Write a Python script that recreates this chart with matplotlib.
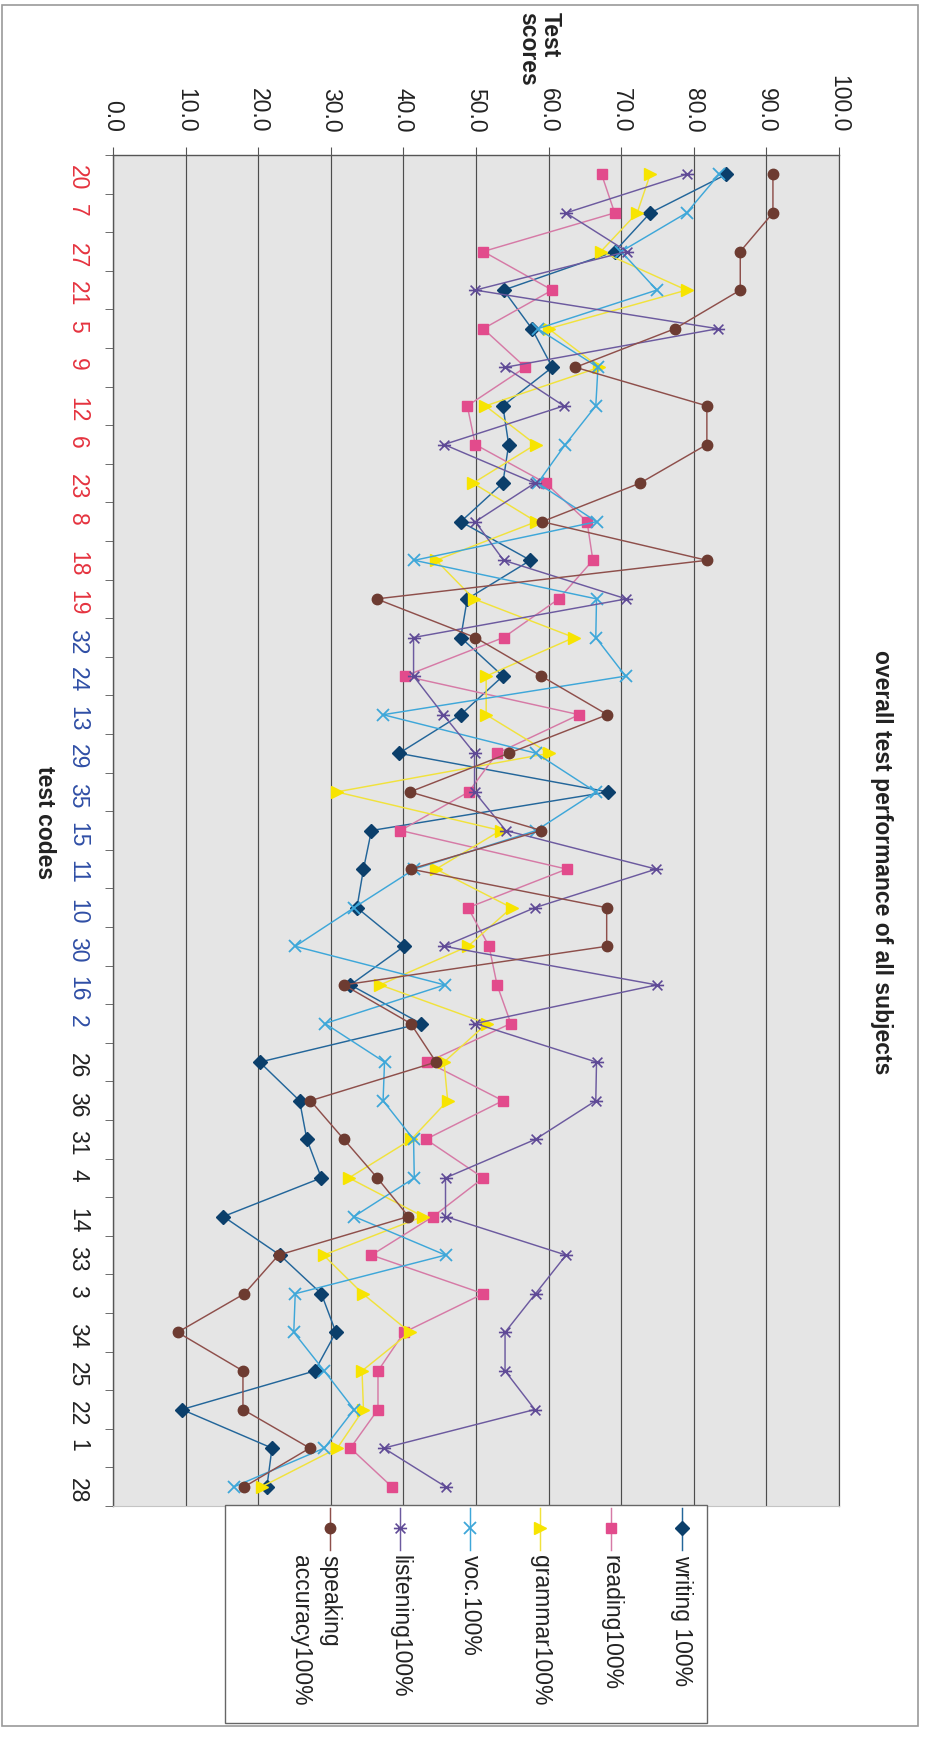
import matplotlib
matplotlib.use("Agg")
import matplotlib.pyplot as plt
from matplotlib.path import Path
from matplotlib.patches import Rectangle
from matplotlib.lines import Line2D
import numpy as np

plt.rcParams["font.family"] = ["Liberation Sans", "DejaVu Sans"]

# ---- data -------------------------------------------------------------
codes = ["20", "7", "27", "21", "5", "9", "12", "6", "23", "8", "18", "19",
         "32", "24", "13", "29", "35", "15", "11", "10", "30", "16", "2",
         "26", "36", "31", "4", "14", "33", "3", "34", "25", "22", "1", "28"]
code_groups = ["red"] * 12 + ["blue"] * 11 + ["black"] * 12

writing = [84.5, 74.0, 69.1, 53.8, 57.7, 60.5, 53.7, 54.5, 53.7, 47.9, 57.5, 48.8,
           47.9, 53.7, 47.9, 39.4, 68.2, 35.6, 34.5, 33.6, 40.1, 32.7, 42.4,
           20.2, 25.7, 26.7, 28.7, 15.2, 23.0, 28.7, 30.7, 27.8, 9.5, 21.9, 21.2]
reading = [67.3, 69.1, 51.0, 60.5, 51.0, 56.8, 48.8, 49.9, 59.6, 65.3, 66.1, 61.4,
           53.8, 40.2, 64.2, 52.9, 49.0, 39.6, 62.5, 48.9, 51.8, 52.9, 54.8,
           43.3, 53.7, 43.1, 51.0, 44.1, 35.6, 51.0, 40.1, 36.5, 36.5, 32.7, 38.4]
grammar = [74.0, 72.2, 67.2, 79.0, 60.0, 67.0, 51.3, 58.2, 49.6, 58.3, 44.5, 49.7,
           63.5, 51.4, 51.4, 60.1, 30.8, 53.4, 44.5, 54.9, 48.9, 36.8, 51.5,
           45.6, 46.1, 41.1, 32.5, 42.7, 29.0, 34.4, 40.9, 34.3, 34.5, 30.9, 20.5]
voc = [83.5, 79.0, 70.0, 74.9, 58.5, 66.8, 66.5, 62.3, 58.5, 66.6, 41.5, 66.6,
       66.5, 70.6, 37.2, 58.3, 66.5, 58.3, 41.5, 33.2, 25.1, 45.7, 29.2,
       37.4, 37.2, 41.4, 41.5, 33.2, 45.8, 25.1, 24.9, 29.1, 33.2, 29.1, 16.7]
listening = [79.0, 62.4, 70.8, 49.9, 83.3, 54.0, 62.1, 45.6, 58.1, 49.9, 53.8, 70.7,
             41.4, 41.4, 45.5, 49.8, 49.8, 54.1, 74.8, 58.1, 45.6, 74.9, 49.9,
             66.6, 66.5, 58.2, 45.8, 45.8, 62.4, 58.2, 54.0, 54.0, 58.1, 37.3, 45.8]
speaking = [90.9, 90.9, 86.4, 86.4, 77.4, 63.7, 81.8, 81.8, 72.6, 59.1, 81.8, 36.3,
            49.9, 59.0, 68.1, 54.5, 40.9, 59.0, 41.0, 68.0, 68.0, 31.8, 41.0,
            44.5, 27.2, 31.8, 36.4, 40.7, 22.8, 18.1, 8.9, 17.9, 17.9, 27.1, 18.1]

score_ticks = [0, 10, 20, 30, 40, 50, 60, 70, 80, 90, 100]

# ---- styles -----------------------------------------------------------
star_path = Path([(-1, -1), (1, 1), (-1, 1), (1, -1), (-1.35, 0), (1.35, 0)],
                 [Path.MOVETO, Path.LINETO] * 3)

series = [
    ("writing 100%", writing, dict(color="#23669a", marker="D", ms=6.8,
                                   mfc="#0b3f6b", mec="#0b3f6b")),
    ("reading100%", reading, dict(color="#d67aa6", marker="s", ms=6.8,
                                  mfc="#e24b8c", mec="#e24b8c")),
    ("grammar100%", grammar, dict(color="#f1e23c", marker=">", ms=8.5,
                                  mfc="#f7e400", mec="#f7e400")),
    ("voc.100%", voc, dict(color="#3ea7d9", marker="x", ms=8.5, mew=1.3,
                           mec="#3ea7d9")),
    ("listening100%", listening, dict(color="#6c5a9f", marker=star_path, ms=9.5,
                                      mew=1.2, mfc="none", mec="#5f4a96")),
    ("speaking\naccuracy100%", speaking, dict(color="#8e4f4b", marker="o", ms=7.5,
                                            mfc="#6d3b31", mec="#6d3b31")),
]
label_colors = {"red": "#e5333f", "blue": "#2f4ea5", "black": "#222222"}

W, H = 926, 1739
fig = plt.figure(figsize=(W / 100, H / 100), dpi=100)


def fx(px):
    return px / W


def fy(py):
    return 1 - py / H


# ---- main plot (scores run left->right, codes top->bottom) -------------
ax = fig.add_axes([fx(113), fy(1506), fx(839) - fx(113), fy(155) - fy(1506)])
ax.set_facecolor("#e5e5e5")
n = len(codes)
pos = np.arange(n)
ax.set_xlim(0, 100)
ax.set_ylim(n - 0.5, -0.5)
ax.set_axisbelow(True)
ax.grid(axis="x", color="#4d4d4d", lw=0.85)

for name, vals, st in series:
    ax.plot(vals, pos, lw=1.05, zorder=3, **st)

ax.xaxis.tick_top()
ax.set_xticks(score_ticks)
ax.set_xticklabels([f"{v:.1f}" for v in score_ticks], rotation=-90)
ax.tick_params(axis="x", which="major", top=True, bottom=False, length=5.8,
               direction="out", pad=10.5, labelsize=16.5, color="#555555",
               labelcolor="#222222")

ax.set_yticks(pos)
ax.set_yticklabels(codes, rotation=-90, ha="center")
ax.set_yticks(np.arange(n + 1) - 0.5, minor=True)
ax.tick_params(axis="y", which="major", length=0, pad=25.5, labelsize=16.5)
ax.tick_params(axis="y", which="minor", length=5.8, direction="out",
               color="#555555")
for lab, grp in zip(ax.get_yticklabels(), code_groups):
    lab.set_color(label_colors[grp])

for side in ("top", "left"):
    ax.spines[side].set_color("#555555")
    ax.spines[side].set_linewidth(1.0)
ax.spines["right"].set_color("#4d4d4d")
ax.spines["right"].set_linewidth(0.85)
ax.spines["bottom"].set_color("#c4c4c4")

# ---- overlay in pixel coordinates for titles, legend and frame ---------
ov = fig.add_axes([0, 0, 1, 1], facecolor="none")
ov.set_xlim(0, W)
ov.set_ylim(H, 0)
ov.axis("off")

ov.add_patch(Rectangle((1.5, 5), 916, 1721, fill=False, ec="#9a9a9a", lw=1.2))

ov.text(882, 862, "overall test performance of all subjects", rotation=-90,
        ha="center", va="center", fontsize=16.5, fontweight="bold",
        color="#222222")
ov.text(539, 12, "Test\nscores", rotation=-90, ha="center", va="top",
        multialignment="left", fontsize=16.5, fontweight="bold",
        color="#222222", linespacing=1.0)
ov.text(44, 823, "test codes", rotation=-90, ha="center", va="center",
        fontsize=16.5, fontweight="bold", color="#222222")

# legend
ov.add_patch(Rectangle((225, 1505), 482, 218, fc="white", ec="#666666", lw=1.0))
legend_x = [682, 611, 540, 470, 400, 330]
for (name, vals, st), lx in zip(series, legend_x):
    ov.add_line(Line2D([lx, lx], [1508, 1550], lw=1.05, color=st["color"]))
    mst = {k: v for k, v in st.items() if k != "color"}
    ov.add_line(Line2D([lx], [1528], lw=0, **mst))
    lines = name.split("\n")
    for i, line in enumerate(lines):
        ov.text(lx - 29 * i, 1555, line, rotation=-90, ha="center", va="top",
                fontsize=16.5, color="#222222")

fig.savefig("out.png", dpi=100)
